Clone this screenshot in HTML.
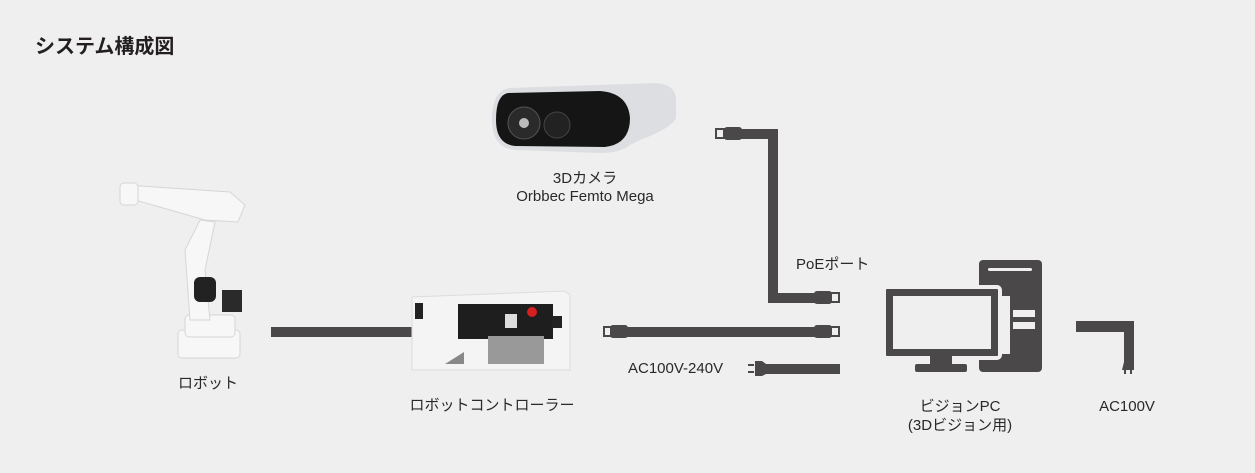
<!DOCTYPE html>
<html><head><meta charset="utf-8"><style>
html,body{margin:0;padding:0;}
body{width:1255px;height:473px;background:#eeefee;position:relative;overflow:hidden;font-family:"Liberation Sans","Noto Sans CJK JP",sans-serif;color:#2a2828;}
.t{position:absolute;font-size:15px;white-space:nowrap;line-height:18px;}
.c{text-align:center;transform:translateX(-50%);}
</style></head><body>
<div class="t" style="left:35px;top:34px;font-size:20px;font-weight:bold;line-height:26px;color:#231f20;">システム構成図</div>

<svg width="1255" height="473" style="position:absolute;left:0;top:0">
<!-- camera -->
<path d="M510 88 L655 83 Q676 84 676 100 L676 118 Q672 128 640 140 L630 145 Q620 153 600 153 L515 150 Q492 148 492 120 Q492 90 510 88Z" fill="#dcdee1"/>
<path d="M508 93 L600 91 Q628 93 630 118 Q630 144 605 147 L515 146 Q496 144 496 120 Q496 95 508 93Z" fill="#151515"/>
<circle cx="524" cy="123" r="16" fill="#2a2a2a" stroke="#555" stroke-width="1"/>
<circle cx="524" cy="123" r="5" fill="#bbb"/>
<circle cx="557" cy="125" r="13" fill="#222" stroke="#444"/>
<!-- camera cable -->
<rect x="716" y="129" width="8" height="9" fill="none" stroke="#4a4848" stroke-width="2"/>
<rect x="724" y="127" width="18" height="13" rx="3" fill="#4a4848"/>
<rect x="740" y="129" width="38" height="10" fill="#4a4848"/>
<rect x="768" y="129" width="10" height="174" fill="#4a4848"/>
<rect x="768" y="293" width="50" height="10" fill="#4a4848"/>
<rect x="814" y="291" width="18" height="13" rx="3" fill="#4a4848"/>
<rect x="831" y="293" width="8" height="9" fill="none" stroke="#4a4848" stroke-width="2"/>
<!-- cable 2 -->
<rect x="604" y="327" width="8" height="9" fill="none" stroke="#4a4848" stroke-width="2"/>
<rect x="610" y="325" width="18" height="13" rx="3" fill="#4a4848"/>
<rect x="626" y="327" width="192" height="10" fill="#4a4848"/>
<rect x="814" y="325" width="18" height="13" rx="3" fill="#4a4848"/>
<rect x="831" y="327" width="8" height="9" fill="none" stroke="#4a4848" stroke-width="2"/>
<!-- power cable -->
<rect x="748" y="364" width="6" height="2" fill="#4a4848"/><rect x="748" y="371" width="6" height="2" fill="#4a4848"/>
<path d="M755 361 L762 361 L766 364 L766 374 L762 376 L755 376Z" fill="#4a4848"/>
<rect x="765" y="364" width="75" height="10" fill="#4a4848"/>
<!-- robot cable -->
<rect x="271" y="327" width="142" height="10" fill="#4a4848"/>
<!-- robot -->
<g fill="#f7f7f7" stroke="#d6d6d6" stroke-width="1">
<rect x="178" y="330" width="62" height="28" rx="4"/>
<rect x="185" y="315" width="50" height="22" rx="4"/>
<path d="M185 250 L200 220 L215 222 L205 270 L210 320 L190 320Z"/>
<path d="M125 185 L230 192 L245 205 L238 222 L205 220 L135 200Z"/>
<rect x="120" y="183" width="18" height="22" rx="4"/>
</g>
<rect x="194" y="277" width="22" height="25" rx="6" fill="#222"/>
<rect x="222" y="290" width="20" height="22" fill="#2a2a2a"/>
<!-- controller -->
<path d="M412 297 L565 291 L570 295 L570 370 L412 370Z" fill="#f4f4f4" stroke="#ddd"/>
<rect x="458" y="304" width="95" height="35" fill="#1e1e1e"/>
<circle cx="532" cy="312" r="5" fill="#d42020"/>
<rect x="505" y="314" width="12" height="14" fill="#ddd"/>
<rect x="488" y="336" width="56" height="28" fill="#999"/>
<path d="M445 364 L464 352 L464 364Z" fill="#888"/>
<rect x="415" y="303" width="8" height="16" fill="#222"/>
<rect x="552" y="316" width="10" height="12" fill="#222"/>
<!-- PC -->
<rect x="979" y="260" width="63" height="112" rx="4" fill="#4a4848"/>
<rect x="988" y="268" width="44" height="3" rx="1.5" fill="#eeefee"/>
<rect x="884" y="287" width="116" height="71" rx="3" fill="#4a4848" stroke="#eeefee" stroke-width="4"/>
<rect x="893" y="296" width="98" height="53" fill="#eeefee"/>
<rect x="930" y="356" width="22" height="10" fill="#4a4848"/>
<rect x="915" y="364" width="52" height="8" rx="2" fill="#4a4848"/>
<rect x="1013" y="310" width="22" height="7" fill="#eeefee"/>
<rect x="1013" y="322" width="22" height="7" fill="#eeefee"/>
<rect x="1000" y="296" width="10" height="58" fill="#eeefee"/>
<!-- AC cable -->
<rect x="1076" y="321" width="58" height="11" fill="#4a4848"/>
<rect x="1124" y="321" width="10" height="42" fill="#4a4848"/>
<path d="M1124 362 L1134 362 L1134 370 L1122 370 Z" fill="#4a4848"/>
<rect x="1124" y="370" width="2" height="4" fill="#4a4848"/><rect x="1130" y="370" width="2" height="4" fill="#4a4848"/>
</svg>

<div class="t c" style="left:585px;top:170px;">3Dカメラ</div>
<div class="t c" style="left:585px;top:188px;">Orbbec Femto Mega</div>
<div class="t" style="left:796px;top:256px;">PoEポート</div>
<div class="t" style="left:628px;top:360px;">AC100V-240V</div>
<div class="t c" style="left:208px;top:375px;">ロボット</div>
<div class="t c" style="left:492px;top:397px;">ロボットコントローラー</div>
<div class="t c" style="left:960px;top:398px;">ビジョンPC</div>
<div class="t c" style="left:960px;top:417px;">(3Dビジョン用)</div>
<div class="t c" style="left:1127px;top:398px;">AC100V</div>
</body></html>
